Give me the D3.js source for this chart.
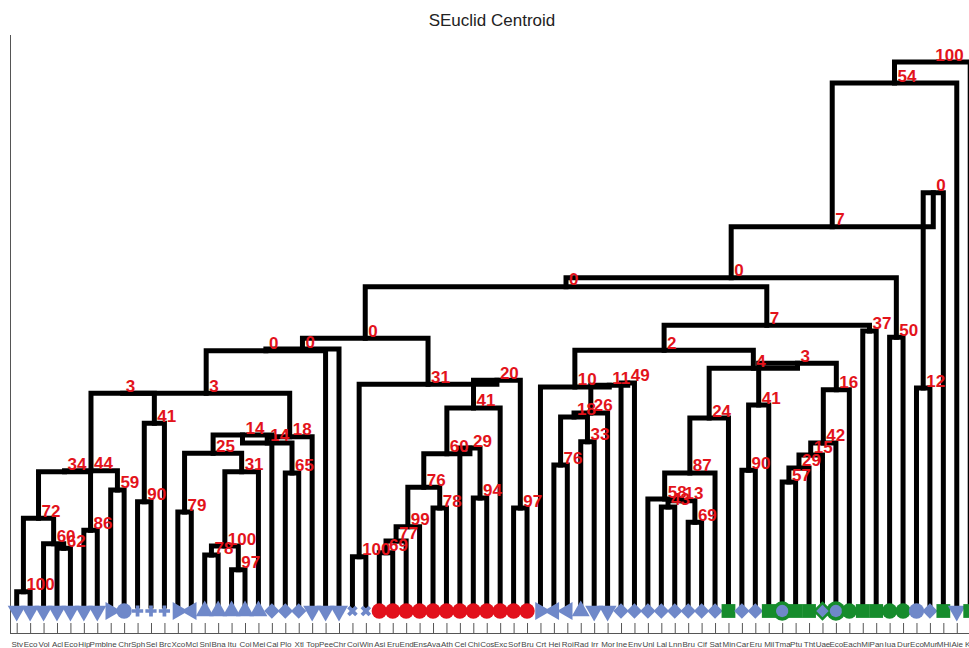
<!DOCTYPE html>
<html lang="en">
<head>
<meta charset="UTF-8">
<title>SEuclid Centroid</title>
<script src="https://d3js.org/d3.v7.min.js"></script>
<style>
    body { margin: 0; background: #fff; }
    svg { display: block; font-family: "Liberation Sans", Arial, sans-serif; }
</style>
</head>
<body>
<script>
const leafNames = [
    "Stv","Eco","Vol","Acl","Eco","Hip","Pmb","Ine","Chr","Sph","Sel","Brc","Xco","Mcl","Snl","Bna",
    "Itu","Coi","Mei","Cal","Plo","Xtl","Top","Pee","Chr","Coi","Win","Asi","Eru","End","Ens","Ava",
    "Ath","Cel","Chi","Cos","Exc","Sof","Bru","Crt","Hei","Roi","Rad","Irr","Mor","Ine","Env","Unl",
    "Lal","Lnn","Bru","Cif","Sat","Min","Car","Eru","Mil","Tma","Ptu","Tht","Uae","Eco","Eac","hMi",
    "Pan","Iua","Dur","Eco","Mur","MHi","Aie","Kai"
];
// v down, ^ up, > right, < left, o circle, + plus, x cross, d diamond, s square
const leafShapes = [
    "v","v","v","v","v","v","v",">","o","+","+","+",">","<","^","^",
    "^","^","^","d","d","d","v","v","v","x","x","o","o","o","o","o",
    "o","o","o","o","o","o","o",">","<","<","^","v","v","d","d","d",
    "d","d","d","d","d","s","d","d","s","o","s","s","d","o","o","s",
    "s","o","o","o","d","s","v","s"
];
const leafGroups = [
    "b","b","b","b","b","b","b","b","b","b","b","b","b","b","b","b",
    "b","b","b","b","b","b","b","b","b","b","b","r","r","r","r","r",
    "r","r","r","r","r","r","r","b","b","b","b","b","b","b","b","b",
    "b","b","b","b","b","g","b","b","g","b","g","g","b","b","g","g",
    "g","g","g","b","b","g","b","g"
];
const leafRings = { 57: "g", 60: "g", 61: "g" };

// [id, left, right, height, support]
const merges = [
    ["nA", 0, 1, 0.25, 100],
    ["n62", 3, 4, 1.02, 62],
    ["n60a", 2, "n62", 1.10, 60],
    ["n72", "nA", "n60a", 1.55, 72],
    ["n86", 5, 6, 1.34, 86],
    ["n34", "n72", "n86", 2.37, 34],
    ["n59", 7, 8, 2.05, 59],
    ["n44", "n34", "n59", 2.39, 44],
    ["n90a", 9, 10, 1.84, 90],
    ["n41a", "n90a", 11, 3.23, 41],
    ["n3a", "n44", "n41a", 3.76, 3],
    ["n79", 12, 13, 1.66, 79],
    ["n78a", 14, 15, 0.90, 78],
    ["n97a", 16, 17, 0.64, 97],
    ["n100b", "n78a", "n97a", 1.06, 100],
    ["n31a", "n100b", 18, 2.37, 31],
    ["n25", "n79", "n31a", 2.70, 25],
    ["n14a", "n25", 19, 3.02, 14],
    ["n65", 20, 21, 2.35, 65],
    ["n14b", "n14a", "n65", 2.88, 14],
    ["n18a", "n14b", 22, 2.99, 18],
    ["n3b", "n3a", "n18a", 3.76, 3],
    ["n0a", "n3b", 23, 4.51, 0],
    ["n0b", "n0a", 24, 4.54, 0],
    ["n100c", 25, 26, 0.87, 100],
    ["n69a", 27, 28, 0.94, 69],
    ["n77", "n69a", 29, 1.15, 77],
    ["n99", "n77", 30, 1.40, 99],
    ["n78b", 31, 32, 1.73, 78],
    ["n76a", "n99", "n78b", 2.10, 76],
    ["n94", 34, 35, 1.91, 94],
    ["n29a", 33, "n94", 2.79, 29],
    ["n60b", "n76a", "n29a", 2.69, 60],
    ["n41b", "n60b", 36, 3.50, 41],
    ["n97b", 37, 38, 1.73, 97],
    ["n20", "n41b", "n97b", 3.99, 20],
    ["n31b", "n100c", "n20", 3.92, 31],
    ["n0c", "n0b", "n31b", 4.73, 0],
    ["n76c", 40, 41, 2.49, 76],
    ["n33", 42, 43, 2.90, 33],
    ["n18b", "n76c", "n33", 3.34, 18],
    ["n26", "n18b", 44, 3.41, 26],
    ["n49", 45, 46, 3.94, 49],
    ["n11", "n26", "n49", 3.90, 11],
    ["n10", 39, "n11", 3.87, 10],
    ["n43", 48, 49, 1.75, 43],
    ["n69b", 50, 51, 1.48, 69],
    ["n13", "n43", "n69b", 1.86, 13],
    ["n58", 47, "n13", 1.89, 58],
    ["n87", "n58", 52, 2.35, 87],
    ["n24", "n87", 53, 3.32, 24],
    ["n90c", 54, 55, 2.40, 90],
    ["n41c", "n90c", 56, 3.55, 41],
    ["n57", 57, 58, 2.19, 57],
    ["n29c", "n57", 59, 2.44, 29],
    ["n15", "n29c", 60, 2.67, 15],
    ["n42", "n15", 61, 2.88, 42],
    ["n16", "n42", 62, 3.82, 16],
    ["n3c", "n41c", "n16", 4.29, 3],
    ["n4", "n24", "n3c", 4.20, 4],
    ["n2", "n10", "n4", 4.52, 2],
    ["n37", 63, 64, 4.86, 37],
    ["n7b", "n2", "n37", 4.96, 7],
    ["n0e", "n0c", "n7b", 5.64, 0],
    ["n50", 65, 66, 4.75, 50],
    ["n0f", "n0e", "n50", 5.80, 0],
    ["n12", 67, 68, 3.85, 12],
    ["n0g", "n12", 69, 7.30, 0],
    ["n7c", "n0f", "n0g", 6.70, 7],
    ["n54", "n7c", 70, 9.24, 54],
    ["n100r", "n54", 71, 9.61, 100]
];

const width = 969, height = 648;
const groupColor = { b: "#6f88c9", r: "#e2101b", g: "#168c2c" };

const x = d3.scaleLinear().domain([0, leafNames.length - 1]).range([16.7, 970.2]);
const y = d3.scaleLinear().domain([0, 10]).range([606, 40]);

const svg = d3.select("body")
    .append("svg")
    .attr("width", width)
    .attr("height", height);

svg.append("text")
    .attr("x", 492).attr("y", 26)
    .attr("text-anchor", "middle")
    .attr("font-size", 17)
    .attr("fill", "#222")
    .text("SEuclid Centroid");

svg.append("line")
    .attr("x1", 10.5).attr("x2", 10.5)
    .attr("y1", 35).attr("y2", 633)
    .attr("stroke", "#555");

svg.append("line")
    .attr("x1", 10).attr("x2", width)
    .attr("y1", 633.5).attr("y2", 633.5)
    .attr("stroke", "#555");

const xAxis = d3.axisBottom(x)
    .tickValues(d3.range(leafNames.length))
    .tickFormat(i => leafNames[i])
    .tickSize(-10)
    .tickSizeOuter(0)
    .tickPadding(8);

const gx = svg.append("g")
    .attr("transform", "translate(0,633)")
    .call(xAxis);
gx.select(".domain").remove();
gx.selectAll(".tick line").attr("stroke", "#555");
gx.selectAll(".tick text").attr("font-size", 8).attr("fill", "#444")
    .attr("font-family", "'Liberation Sans', Arial, sans-serif");

// positions of leaves and merged clusters
const pos = {};
leafNames.forEach((n, i) => pos[i] = { x: x(i), y: y(0) });
const links = merges.map(([id, a, b, h, s]) => {
    const l = pos[a], r = pos[b], yy = y(h);
    pos[id] = { x: (l.x + r.x) / 2, y: yy };
    return { d: `M${l.x},${l.y}V${yy}H${r.x}V${r.y}`, x: (l.x + r.x) / 2, y: yy, s: s };
});

svg.append("g")
    .selectAll("path")
    .data(links)
    .enter().append("path")
    .attr("d", d => d.d)
    .attr("fill", "none")
    .attr("stroke", "#000")
    .attr("stroke-width", 5)
    .attr("stroke-linejoin", "miter")
    .attr("stroke-linecap", "square");

const shapeType = {
    v: [d3.symbolTriangle, 180, 140], "^": [d3.symbolTriangle, 0, 140],
    ">": [d3.symbolTriangle, 90, 140], "<": [d3.symbolTriangle, -90, 140],
    o: [d3.symbolCircle, 0, 185], s: [d3.symbolSquare, 0, 190],
    d: [d3.symbolSquare, 45, 120], "+": [d3.symbolCross, 0, 70], x: [d3.symbolCross, 45, 70]
};

const markers = svg.append("g");
markers.selectAll("path.ring")
    .data(d3.range(leafNames.length).filter(i => leafRings[i]))
    .enter().append("path").attr("class", "ring")
    .attr("d", i => d3.symbol().type(shapeType[leafShapes[i]][0]).size(shapeType[leafShapes[i]][2] * 1.6)())
    .attr("transform", i => `translate(${x(i)},611) rotate(${shapeType[leafShapes[i]][1]})`)
    .attr("fill", i => groupColor[leafRings[i]]);

markers.selectAll("path.mark")
    .data(d3.range(leafNames.length))
    .enter().append("path").attr("class", "mark")
    .attr("d", i => d3.symbol().type(shapeType[leafShapes[i]][0]).size(shapeType[leafShapes[i]][2] * (leafRings[i] ? 0.65 : 1))())
    .attr("transform", i => `translate(${x(i)},611) rotate(${shapeType[leafShapes[i]][1]})`)
    .attr("fill", i => groupColor[leafGroups[i]]);

svg.append("g")
    .selectAll("text")
    .data(links)
    .enter().append("text")
    .attr("x", d => d.x + 3)
    .attr("y", d => d.y - 1.5)
    .attr("font-size", 17)
    .attr("font-weight", "bold")
    .attr("fill", "#e3131b")
    .text(d => d.s);
</script>
</body>
</html>
